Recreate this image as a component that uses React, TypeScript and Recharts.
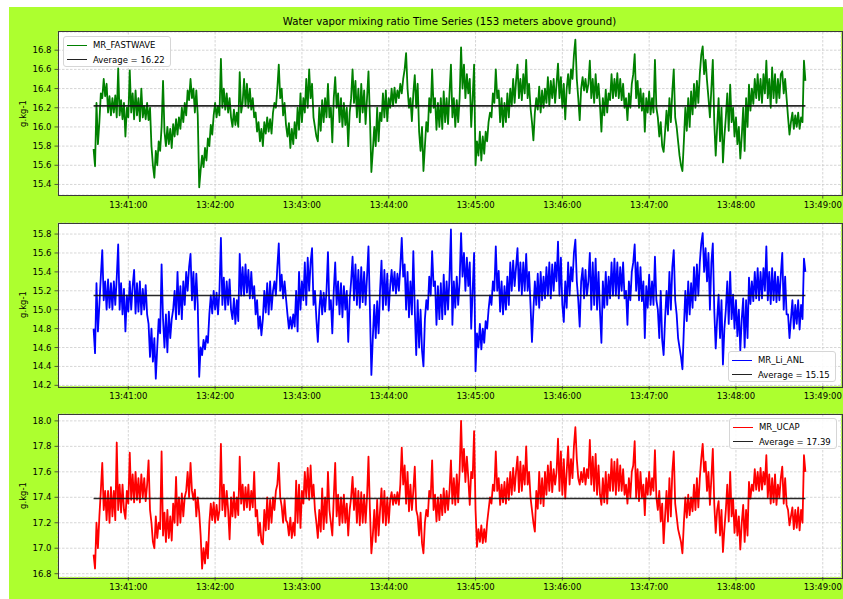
import React from 'react';
import { LineChart, Line, XAxis, YAxis, CartesianGrid, ReferenceLine } from 'recharts';

// one sample per second starting at 13:40:36
const sampleStepSeconds = 1;
const xTickSeconds = [24, 84, 144, 204, 264, 324, 384, 444, 504];
const xTickLabels = ['13:41:00', '13:42:00', '13:43:00', '13:44:00', '13:45:00', '13:46:00', '13:47:00', '13:48:00', '13:49:00'];
const xDomain = [-24.6, 516.6];

const seriesNames = ['MR_FASTWAVE', 'MR_Li_ANL', 'MR_UCAP'];
const averages = [16.22, 15.15, 17.39];

const mrFastwave = [
  15.77, 15.59, 16.25, 15.82, 16.05, 16.35, 16.3, 16.5, 16.32, 16.45,
  16.15, 16.32, 16.12, 16.3, 16.15, 16.33, 16.1, 16.61, 16.12, 16.28,
  16.08, 16.25, 15.9, 16.2, 16.1, 16.59, 16.15, 16.35, 16.08, 16.38,
  16.12, 16.3, 16.06, 16.4, 16.1, 16.22, 16.08, 16.25, 16.07, 16.2,
  15.8, 15.6, 15.47, 15.75, 15.6, 15.85, 15.75, 16.0, 16.48, 15.95,
  15.8, 16.0, 15.82, 15.98, 15.78, 16.03, 15.9, 16.08, 15.92, 16.1,
  15.98, 16.2, 16.05, 16.25, 16.12, 16.38, 16.28, 16.5, 16.3, 16.4,
  16.15, 16.38, 16.12, 15.37, 15.55, 15.7, 15.58, 15.78, 15.65, 15.88,
  15.8, 16.02, 15.92, 16.12, 16.25, 16.1, 16.22, 16.12, 16.71, 16.2,
  16.4, 16.18, 16.35, 16.15, 16.3, 16.1, 16.0, 16.18, 16.02, 16.15,
  16.0, 16.57, 16.15, 16.25, 16.5, 16.22, 16.45, 16.2, 16.4, 16.18,
  16.3, 16.1, 16.15, 15.95, 16.05, 15.85, 15.98, 15.8, 16.05, 15.93,
  16.1, 15.95, 16.08, 15.93, 16.15, 16.25, 16.2, 16.4, 16.65, 16.3,
  16.4, 16.12, 16.25, 16.02, 15.9, 16.04, 15.78, 15.98, 15.82, 16.05,
  15.88, 16.2, 15.97, 16.35, 16.05, 16.3, 16.15, 16.5, 16.2, 16.6,
  16.3, 16.45, 16.1, 16.0, 15.9, 15.85, 16.2, 15.96, 16.28, 16.05,
  16.3, 16.1, 16.45, 16.1, 16.2, 15.84, 16.3, 16.52, 16.2, 16.35,
  16.05, 16.3, 16.0, 16.25, 16.02, 16.2, 15.8, 16.15, 16.3, 16.6,
  16.25, 16.48, 16.1, 16.4, 16.05, 16.45, 16.15, 16.38, 16.03, 16.3,
  16.58, 16.1, 15.53, 15.75, 16.0, 15.8, 16.2, 15.85, 16.15, 16.06,
  16.35, 16.1, 16.38, 16.06, 16.3, 16.2, 16.4, 16.22, 16.41, 16.25,
  16.38, 16.3, 16.45, 16.35, 16.5, 16.6, 16.77, 16.4, 16.2, 16.3,
  16.06, 16.35, 16.54, 16.2, 16.45, 15.95, 15.75, 16.0, 15.54, 15.8,
  16.05, 15.95, 16.3, 16.15, 16.6, 16.2, 16.3, 15.97, 16.25, 16.0,
  16.3, 15.98, 16.37, 16.05, 16.3, 16.03, 16.35, 16.65, 16.1, 16.3,
  16.0, 16.28, 16.05, 16.3, 16.83, 16.4, 16.65, 16.3, 16.55, 16.35,
  16.5, 16.0, 16.3, 16.65, 15.6, 15.85, 15.7, 15.95, 15.65, 15.9,
  15.72, 15.95, 15.85, 16.05, 16.15, 16.1, 16.35, 16.25, 16.6, 16.3,
  16.38, 16.05, 16.3, 16.0, 16.25, 16.05, 16.35, 16.1, 16.4, 16.22,
  16.5, 16.25, 16.48, 16.65, 16.3, 16.5, 16.28, 16.55, 16.35, 16.7,
  16.3, 16.45, 16.2, 16.05, 15.86, 16.15, 16.3, 16.18, 16.42, 16.15,
  16.38, 16.2, 16.4, 16.25, 16.52, 16.22, 16.48, 16.3, 16.5, 16.25,
  16.45, 16.66, 16.3, 16.52, 16.2, 16.45, 16.08, 16.4, 16.55, 16.35,
  16.6, 16.5, 16.75, 16.91, 16.5, 16.3, 16.07, 16.4, 16.52, 16.38,
  16.5, 16.36, 16.45, 16.69, 16.3, 16.5, 16.25, 16.55, 16.3, 16.45,
  16.23, 15.95, 16.3, 16.12, 16.39, 16.15, 16.35, 16.28, 16.55, 16.3,
  16.5, 16.32, 16.56, 16.3, 16.5, 16.28, 16.45, 16.2, 16.3, 16.07,
  16.35, 16.2, 16.45, 16.55, 16.76, 16.3, 16.48, 16.2, 16.4, 16.17,
  16.35, 15.95, 16.3, 16.15, 16.37, 16.13, 16.3, 16.15, 16.7, 16.2,
  16.1, 15.9, 16.05, 15.8, 15.74, 15.95, 16.17, 15.96, 16.3, 16.05,
  16.37, 16.6, 16.1, 16.0, 15.85, 15.7, 15.6, 15.54, 15.85, 16.2,
  15.96, 16.3, 16.0, 16.37, 16.13, 16.45, 16.2, 16.48, 16.25, 16.55,
  16.75, 16.84, 16.55, 16.7, 16.48, 16.3, 16.1, 16.4, 16.7, 16.05,
  15.7, 16.0, 16.3, 15.85, 16.2, 15.63, 15.9, 16.1, 16.35, 15.96,
  16.44, 16.05, 16.2, 15.9, 16.1, 15.82, 16.0, 15.67, 15.9, 16.2,
  15.75, 16.3, 16.0, 16.44, 16.17, 16.4, 16.24, 16.5, 16.3, 16.55,
  16.28, 16.5, 16.25, 16.55, 16.35, 16.69, 16.3, 16.5, 16.2, 16.62,
  16.3, 16.55, 16.25, 16.5, 16.3, 16.55, 16.58, 16.35, 16.5, 16.3,
  16.1, 15.92, 16.05, 16.15, 15.98, 16.12, 16.0, 16.15, 15.98, 16.1,
  16.05, 16.69, 16.48,
];

const mrLiAnl = [
  14.8, 14.54, 15.28, 14.77, 15.05, 15.35, 15.63, 15.1, 15.3, 15.0,
  15.32, 15.02, 15.28, 15.0, 15.3, 15.05, 15.34, 15.69, 15.0, 15.28,
  14.95, 15.22, 14.77, 15.15, 14.98, 15.3, 15.0, 15.25, 15.42, 14.96,
  15.28, 14.98, 15.3, 14.95, 15.22, 15.0, 15.26, 14.95, 14.85, 14.5,
  14.8, 14.45, 14.7, 14.27, 14.6, 14.9, 14.75, 15.48, 14.9, 14.6,
  14.95, 14.55, 14.98, 14.7, 14.9, 15.0, 15.2, 14.9, 15.4, 14.95,
  15.25, 14.9, 15.3, 15.05, 15.4, 15.2, 15.45, 15.59, 15.1, 15.4,
  15.0, 15.38, 15.05, 14.29, 14.6, 14.52, 14.68, 14.58, 14.72, 14.65,
  14.95, 15.15, 14.96, 15.2, 15.0, 15.18, 14.95, 15.2, 15.76, 15.05,
  15.34, 15.0, 15.3, 15.05, 15.32, 15.0, 14.9, 15.12, 14.85, 15.1,
  14.88, 15.59, 15.15, 15.45, 15.15, 15.48, 15.18, 15.42, 15.12, 15.4,
  15.12, 15.25, 14.95, 15.1, 14.8, 14.93, 14.73, 14.9, 15.2, 14.97,
  15.28, 14.95, 15.3, 15.0, 15.2, 15.3, 15.15, 15.45, 15.7, 15.2,
  15.37, 15.12, 15.3, 15.12, 14.95, 14.8, 14.92, 14.8, 14.95, 14.82,
  15.2, 14.77, 15.4, 15.0, 15.3, 15.1, 15.5, 15.05, 15.55, 15.2,
  15.5, 15.65, 15.05, 15.2, 14.9, 14.66, 15.0, 15.2, 14.95, 15.18,
  14.98, 15.2, 15.61, 15.0, 15.1, 14.75, 15.2, 15.5, 15.05, 15.3,
  14.95, 15.28, 14.92, 15.25, 15.0, 15.2, 14.66, 15.1, 15.3, 15.56,
  15.1, 15.48, 15.05, 15.42, 15.02, 15.45, 15.08, 15.4, 15.05, 15.35,
  15.67, 15.0, 14.31, 14.7, 15.05, 14.7, 15.09, 14.75, 15.2, 15.52,
  15.0, 15.42, 15.05, 15.38, 14.99, 15.25, 15.42, 15.2, 15.4, 15.17,
  15.38, 15.2, 15.45, 15.76, 15.35, 15.48, 15.0, 15.4, 14.92, 15.3,
  14.95, 15.62, 15.0, 14.52, 15.1, 14.6, 15.0, 14.57, 14.4, 14.9,
  15.1, 15.0, 15.35, 15.15, 15.62, 15.25, 15.3, 14.84, 15.25, 14.9,
  15.28, 14.9, 15.37, 14.95, 15.3, 15.0, 15.35, 15.85, 14.84, 15.3,
  15.02, 15.35, 15.05, 15.3, 15.81, 15.35, 15.6, 15.2, 15.55, 15.25,
  15.5, 14.8, 15.2, 15.6, 14.35, 14.75, 14.6, 14.85, 14.58, 14.8,
  14.65, 14.88, 14.8, 15.0, 15.15, 15.05, 15.3, 15.2, 15.67, 15.2,
  15.41, 14.98, 15.3, 14.95, 15.25, 15.0, 15.35, 15.05, 15.5, 15.2,
  15.52, 15.25, 15.45, 15.65, 15.2, 15.5, 15.16, 15.5, 15.2, 15.59,
  15.2, 15.4, 15.05, 14.66, 15.0, 15.3, 15.05, 15.38, 15.02, 15.4,
  15.1, 15.35, 15.12, 15.45, 15.15, 15.5, 15.12, 15.48, 15.2, 15.5,
  15.3, 15.72, 15.15, 15.55, 15.05, 14.87, 15.3, 15.02, 15.5, 15.15,
  15.45, 15.3, 15.6, 15.74, 15.3, 15.1, 14.82, 15.3, 15.44, 15.12,
  15.42, 15.15, 15.3, 15.6, 15.0, 15.5, 15.05, 15.54, 15.0, 15.4,
  14.98, 14.65, 15.3, 15.02, 15.4, 15.05, 15.35, 15.12, 15.5, 15.15,
  15.54, 15.15, 15.5, 15.12, 15.45, 15.2, 15.5, 15.12, 15.2, 14.84,
  15.3, 15.1, 15.4, 15.5, 15.69, 15.2, 15.5, 15.1, 15.45, 15.09,
  15.3, 14.7, 15.25, 15.02, 15.37, 15.05, 15.3, 15.05, 15.56, 15.1,
  15.0, 14.7, 15.2, 14.68, 14.52, 14.9, 15.2, 14.95, 15.4, 15.0,
  15.45, 15.63, 15.1, 14.95, 14.7, 14.6, 14.5, 14.37, 14.8, 15.2,
  14.88, 15.3, 14.95, 15.28, 15.02, 15.45, 15.1, 15.48, 15.15, 15.5,
  15.7, 15.81, 15.4, 15.65, 15.3, 15.6, 15.0, 15.5, 15.7, 15.0,
  14.59, 14.9, 15.16, 14.7, 15.1, 14.42, 14.8, 15.0, 15.3, 14.85,
  15.4, 14.9, 15.16, 14.8, 15.1, 14.72, 15.0, 14.57, 14.9, 15.12,
  14.6, 15.1, 14.7, 15.34, 15.06, 15.3, 15.09, 15.4, 15.12, 15.44,
  15.1, 15.4, 15.12, 15.44, 15.2, 15.67, 15.1, 15.4, 15.06, 15.44,
  15.1, 15.4, 15.08, 15.35, 15.1, 15.37, 15.6, 15.0, 15.35, 14.95,
  14.95, 14.7, 14.9, 15.1, 14.8, 15.05, 14.85, 15.1, 14.79, 15.05,
  14.9, 15.54, 15.4,
];

const mrUcap = [
  16.95, 16.84, 17.2, 17.0, 17.25, 17.45, 17.67, 17.3, 17.45, 17.22,
  17.45, 17.2, 17.48, 17.25, 17.45, 17.22, 17.83, 17.3, 17.5, 17.28,
  17.5, 17.3, 17.23, 17.45, 17.35, 17.75, 17.38, 17.58, 17.36, 17.6,
  17.38, 17.55, 17.36, 17.58, 17.4, 17.55, 17.37, 17.5, 17.69, 17.3,
  17.2, 17.05, 17.0, 17.25, 17.08, 17.2, 17.15, 17.76, 17.1, 17.28,
  17.05, 17.3, 17.08, 17.25, 17.06, 17.35, 17.2, 17.56, 17.18, 17.4,
  17.2, 17.43, 17.25, 17.4, 17.45, 17.6, 17.4, 17.67, 17.45, 17.38,
  17.46, 17.25, 17.4, 17.28, 17.1, 16.84, 17.0, 16.88, 17.05, 16.92,
  17.2, 17.35, 17.22, 17.36, 17.2, 17.34, 17.22, 17.3, 17.82, 17.3,
  17.5, 17.25, 17.45, 17.3, 17.07, 17.4, 17.25, 17.44, 17.24, 17.4,
  17.26, 17.72, 17.35, 17.5, 17.3, 17.48, 17.32, 17.5, 17.3, 17.45,
  17.32, 17.6, 17.25, 17.3, 17.1, 17.2, 17.05, 17.03, 17.3, 17.14,
  17.4, 17.15, 17.38, 17.2, 17.4, 17.3, 17.45, 17.5, 17.67, 17.4,
  17.33, 17.2, 17.38, 17.22, 17.2, 17.1, 17.24, 17.08, 17.2, 17.1,
  17.53, 17.2, 17.5, 17.16, 17.45, 17.35, 17.6, 17.4, 17.63, 17.38,
  17.65, 17.4, 17.5, 17.3, 17.2, 17.08, 17.3, 17.13, 17.47, 17.15,
  17.4, 17.2, 17.6, 17.3, 17.2, 17.1, 17.4, 17.67, 17.25, 17.42,
  17.18, 17.4, 17.2, 17.42, 17.2, 17.35, 17.1, 17.3, 17.4, 17.56,
  17.3, 17.47, 17.2, 17.45, 17.18, 17.44, 17.2, 17.42, 17.2, 17.4,
  17.72, 17.3, 16.96, 17.1, 17.3, 17.05, 17.38, 17.1, 17.3, 17.47,
  17.2, 17.45, 17.18, 17.4, 17.2, 17.38, 17.44, 17.34, 17.42, 17.35,
  17.44, 17.34, 17.5, 17.79, 17.5, 17.65, 17.35, 17.6, 17.29, 17.5,
  17.3, 17.45, 17.64, 17.3, 17.25, 17.1, 17.28, 17.04, 16.96, 17.2,
  17.3, 17.25, 17.45, 17.4, 17.69, 17.3, 17.42, 17.21, 17.4, 17.22,
  17.42, 17.26, 17.47, 17.28, 17.45, 17.3, 17.45, 17.69, 17.35, 17.55,
  17.34, 17.58, 17.36, 17.6, 18.0, 17.6, 17.78, 17.52, 17.72, 17.55,
  17.34, 17.6, 17.55, 17.92, 17.3, 17.01, 17.15, 17.05, 17.18, 17.04,
  17.15, 17.05, 17.2, 17.3, 17.4, 17.35, 17.5, 17.45, 17.76, 17.45,
  17.55, 17.34, 17.5, 17.36, 17.52, 17.35, 17.55, 17.38, 17.6, 17.42,
  17.63, 17.45, 17.6, 17.72, 17.44, 17.68, 17.45, 17.65, 17.5, 17.8,
  17.5, 17.6, 17.4, 17.3, 17.2, 17.13, 17.45, 17.31, 17.6, 17.35,
  17.55, 17.33, 17.6, 17.42, 17.65, 17.45, 17.68, 17.44, 17.62, 17.5,
  17.6, 17.86, 17.45, 17.76, 17.42, 17.7, 17.39, 17.6, 17.8, 17.5,
  17.7, 17.55, 17.8, 17.95, 17.7, 17.55, 17.5, 17.6, 17.52, 17.63,
  17.5, 17.62, 17.55, 17.85, 17.5, 17.72, 17.45, 17.74, 17.42, 17.65,
  17.42, 17.34, 17.55, 17.36, 17.6, 17.35, 17.58, 17.45, 17.7, 17.45,
  17.68, 17.42, 17.7, 17.45, 17.65, 17.45, 17.62, 17.42, 17.5, 17.35,
  17.55, 17.4, 17.6, 17.65, 17.84, 17.4, 17.62, 17.37, 17.6, 17.4,
  17.5, 17.26, 17.55, 17.42, 17.6, 17.42, 17.55, 17.45, 17.77, 17.4,
  17.3, 17.45, 17.21, 17.35, 17.04, 17.25, 17.45, 17.21, 17.55, 17.25,
  17.6, 17.76, 17.35, 17.25, 17.15, 17.1, 17.05, 16.96, 17.2, 17.4,
  17.24, 17.42, 17.26, 17.4, 17.29, 17.5, 17.3, 17.55, 17.32, 17.55,
  17.7, 17.82, 17.6, 17.68, 17.45, 17.6, 17.34, 17.55, 17.78, 17.35,
  17.12, 17.3, 17.37, 17.1, 17.3, 16.97, 17.15, 17.3, 17.5, 17.21,
  17.6, 17.25, 17.39, 17.12, 17.3, 17.1, 17.25, 16.99, 17.2, 17.34,
  17.05, 17.3, 17.1, 17.52, 17.39, 17.5, 17.45, 17.62, 17.46, 17.6,
  17.45, 17.63, 17.46, 17.6, 17.5, 17.73, 17.4, 17.58, 17.35, 17.55,
  17.36, 17.58, 17.34, 17.5, 17.4, 17.55, 17.64, 17.35, 17.55, 17.34,
  17.3, 17.18, 17.25, 17.32, 17.15, 17.3, 17.16, 17.32, 17.14, 17.3,
  17.2, 17.73, 17.6,
];

const yTicksFastwave = [15.4, 15.6, 15.8, 16.0, 16.2, 16.4, 16.6, 16.8];
const yTicksLiAnl = [14.2, 14.4, 14.6, 14.8, 15.0, 15.2, 15.4, 15.6, 15.8];
const yTicksUcap = [16.8, 17.0, 17.2, 17.4, 17.6, 17.8, 18.0];

const FONT = '"DejaVu Sans", sans-serif';
const PLOT_LEFT = 58;
const PLOT_RIGHT = 841;
const PLOT_H = 163;

type PanelCfg = {
  name: string;
  values: number[];
  color: string;
  avg: number;
  domain: [number, number];
  ticks: number[];
  plotTop: number;
  legend: { left: number; top: number };
};

const panels: PanelCfg[] = [
  { name: seriesNames[0], values: mrFastwave, color: '#008000', avg: averages[0], domain: [15.29, 16.99], ticks: yTicksFastwave, plotTop: 31.7, legend: { left: 63, top: 36 } },
  { name: seriesNames[1], values: mrLiAnl, color: '#0000ff', avg: averages[1], domain: [14.193, 15.917], ticks: yTicksLiAnl, plotTop: 223.3, legend: { left: 728, top: 351 } },
  { name: seriesNames[2], values: mrUcap, color: '#ff0000', avg: averages[2], domain: [16.774, 18.054], ticks: yTicksUcap, plotTop: 414.3, legend: { left: 729, top: 418 } },
];

function LegendBox({ cfg }: { cfg: PanelCfg }) {
  const items = [
    { label: cfg.name, color: cfg.color },
    { label: `Average = ${cfg.avg.toFixed(2)}`, color: '#222' },
  ];
  return (
    <div
      style={{
        position: 'absolute',
        left: cfg.legend.left,
        top: cfg.legend.top,
        width: 108,
        height: 31,
        boxSizing: 'border-box',
        border: '1px solid #d6d6d6',
        borderRadius: 3,
        background: 'rgba(255,255,255,0.85)',
        paddingTop: 1,
        paddingLeft: 3,
        fontFamily: FONT,
        fontSize: 8.5,
        color: '#000',
      }}
    >
      {items.map((it) => (
        <div key={it.label} style={{ display: 'flex', alignItems: 'center', height: 14.4 }}>
          <div style={{ width: 20, height: 0, borderTop: `1.6px solid ${it.color}`, marginRight: 6 }} />
          <span style={{ whiteSpace: 'nowrap' }}>{it.label}</span>
        </div>
      ))}
    </div>
  );
}

function Panel({ cfg }: { cfg: PanelCfg }) {
  const data = cfg.values.map((v, i) => ({ t: i * sampleStepSeconds, v }));
  const tEnd = (cfg.values.length - 1) * sampleStepSeconds;
  const topPad = 10;
  return (
    <>
      <div style={{ position: 'absolute', left: 0, top: cfg.plotTop - topPad }}>
        <LineChart
          width={843}
          height={topPad + PLOT_H + 30}
          data={data}
          margin={{ top: topPad, right: 843 - PLOT_RIGHT, bottom: 0, left: 0 }}
        >
          <CartesianGrid fill="#ffffff" stroke="#cccccc" strokeDasharray="2.5 1.5" strokeWidth={0.8} />
          <XAxis
            dataKey="t"
            type="number"
            domain={xDomain}
            ticks={xTickSeconds}
            allowDataOverflow
            tickFormatter={(v: number) => xTickLabels[xTickSeconds.indexOf(v)] ?? ''}
            axisLine={false}
            tickLine={{ stroke: '#333', strokeWidth: 0.8 }}
            tickSize={3.5}
            tickMargin={3}
            height={30}
            tick={{ fontSize: 8.5, fill: '#000', fontFamily: FONT }}
            interval={0}
          />
          <YAxis
            type="number"
            domain={cfg.domain}
            ticks={cfg.ticks}
            allowDataOverflow
            tickFormatter={(v: number) => v.toFixed(1)}
            axisLine={false}
            tickLine={{ stroke: '#333', strokeWidth: 0.8 }}
            tickSize={3.5}
            tickMargin={3}
            width={PLOT_LEFT}
            interval={0}
            tick={{ fontSize: 8.5, fill: '#000', fontFamily: FONT }}
            label={{
              value: 'g.kg-1',
              angle: -90,
              position: 'insideLeft',
              offset: 23,
              style: { textAnchor: 'middle', fontSize: 8.5, fill: '#000', fontFamily: FONT },
            }}
          />
          <Line
            type="linear"
            dataKey="v"
            stroke={cfg.color}
            strokeWidth={1.8}
            strokeLinejoin="round"
            dot={false}
            isAnimationActive={false}
          />
          <ReferenceLine
            segment={[{ x: 0, y: cfg.avg }, { x: tEnd, y: cfg.avg }]}
            stroke="#111"
            strokeWidth={1.6}
            strokeOpacity={0.9}
          />
        </LineChart>
      </div>
      <div
        style={{
          position: 'absolute',
          left: PLOT_LEFT - 0.5,
          top: cfg.plotTop - 0.5,
          width: PLOT_RIGHT - PLOT_LEFT,
          height: PLOT_H,
          border: '1px solid #3a3a3a',
          pointerEvents: 'none',
        }}
      />
      <LegendBox cfg={cfg} />
    </>
  );
}

export default function App() {
  return (
    <div style={{ position: 'absolute', left: 0, top: 0, width: 843, height: 599, background: '#ffffff', overflow: 'hidden' }}>
      <div style={{ position: 'absolute', left: 9, top: 7, width: 834, height: 592, background: '#adff2f' }} />
      <div
        style={{
          position: 'absolute',
          left: PLOT_LEFT,
          width: PLOT_RIGHT - PLOT_LEFT,
          top: 15,
          textAlign: 'center',
          fontFamily: FONT,
          fontSize: 10.2,
          lineHeight: '13px',
          color: '#000',
        }}
      >
        Water vapor mixing ratio Time Series (153 meters above ground)
      </div>
      {panels.map((p) => (
        <Panel key={p.name} cfg={p} />
      ))}
    </div>
  );
}
